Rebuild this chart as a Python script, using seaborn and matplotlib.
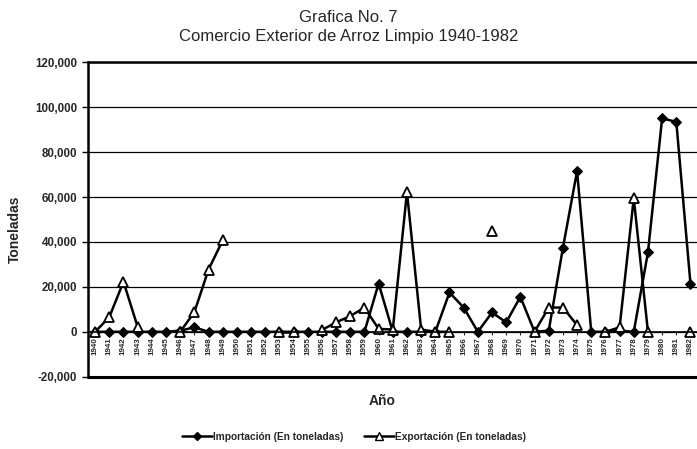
import numpy as np
import pandas as pd
import matplotlib
matplotlib.use("Agg")
import matplotlib.pyplot as plt
import seaborn as sns
from matplotlib.lines import Line2D

years = list(range(1940, 1983))
importacion = [0, 0, 0, 0, 0, 0, 500, 2000, 0, 0,
               0, 0, 0, 0, 0, 0, 0, 0, 0, 0,
               21500, 0, 0, 0, 0, 17500, 10800, 0, 8600, 4200,
               15600, 0, 500, 37300, 71600, 0, 0, 500, 0, 35400,
               95000, 93500, 21400]
nan = np.nan
exportacion = [0, 6500, 22300, 2200, nan, nan, 0, 8700, 27700, 40700,
               nan, nan, nan, 0, 0, nan, 800, 4200, 7000, 10800,
               1300, 1000, 62200, 1000, 0, 0, nan, nan, 44800, nan,
               nan, 0, 10800, 10800, 3000, nan, 0, 2000, 59500, 0,
               nan, nan, 0]
y_ticks = [-20000, 0, 20000, 40000, 60000, 80000, 100000, 120000]

df = pd.DataFrame({"Año": years,
                   "imp": importacion,
                   "exp": exportacion})
# segment id for export so gaps (missing years) break the line
df["seg"] = df["exp"].isna().cumsum()
df_exp = df.dropna(subset=["exp"])

sns.set_theme(style="white")
plt.rcParams["font.family"] = ["Liberation Sans", "DejaVu Sans"]

fig = plt.figure(figsize=(6.97, 4.49), dpi=100)
ax = fig.add_axes([0.1263, 0.161, 0.8745, 0.7003])

sns.lineplot(data=df, x="Año", y="imp", ax=ax,
             color="black", lw=1.8, marker="D", markersize=5,
             markerfacecolor="black", markeredgecolor="black",
             legend=False)
sns.lineplot(data=df_exp, x="Año", y="exp", units="seg", estimator=None,
             ax=ax, color="black", lw=1.8, marker="^", markersize=7,
             markerfacecolor="white", markeredgecolor="black",
             markeredgewidth=1.3, legend=False)

ax.set_xlim(1939.5, 1982.5)
ax.set_ylim(-20000, 120000)
ax.set_yticks(y_ticks)
ax.set_yticklabels([f"{v:,}" for v in y_ticks], fontsize=8.3, fontweight="bold")
ax.yaxis.grid(True, color="black", lw=0.9)
ax.set_axisbelow(True)
ax.tick_params(axis="y", left=True, length=4, width=1, color="black", pad=4)

ax.spines["bottom"].set_position(("data", 0))
ax.spines["bottom"].set_linewidth(1.2)
ax.spines["left"].set_linewidth(1.8)
ax.spines["top"].set_linewidth(1.8)
ax.spines["right"].set_visible(False)
for s in ax.spines.values():
    s.set_color("black")
ax.axhline(-20000, color="black", lw=2.2, clip_on=False)

ax.set_xticks(years)
ax.set_xticklabels([str(y) for y in years], rotation=90, fontsize=5.8,
                   fontweight="bold")
ax.tick_params(axis="x", bottom=True, length=2.5, width=0.8, pad=1.5)

ax.set_xlabel("")
ax.set_ylabel("")
fig.text(0.548, 0.108, "Año", ha="center", va="center", fontsize=10,
         fontweight="bold")
fig.text(0.021, 0.49, "Toneladas", ha="center", va="center", rotation=90,
         fontsize=10, fontweight="bold")
fig.text(0.5, 0.962, "Grafica No. 7", ha="center", va="center", fontsize=12)
fig.text(0.5, 0.918, "Comercio Exterior de Arroz Limpio 1940-1982",
         ha="center", va="center", fontsize=12)

h_imp = Line2D([], [], color="black", lw=1.8, marker="D", markersize=4,
               markerfacecolor="black")
h_exp = Line2D([], [], color="black", lw=1.8, marker="^", markersize=5.5,
               markerfacecolor="white", markeredgecolor="black")
ax.legend([h_imp, h_exp],
          ["Importación (En toneladas)", "Exportación (En toneladas)"],
          loc="center", bbox_to_anchor=(0.508, 0.027),
          bbox_transform=fig.transFigure, ncol=2, frameon=False,
          prop={"size": 7.3, "weight": "bold"}, handlelength=3.0,
          columnspacing=2.0, handletextpad=0.1)

fig.savefig("out.png", dpi=100)
